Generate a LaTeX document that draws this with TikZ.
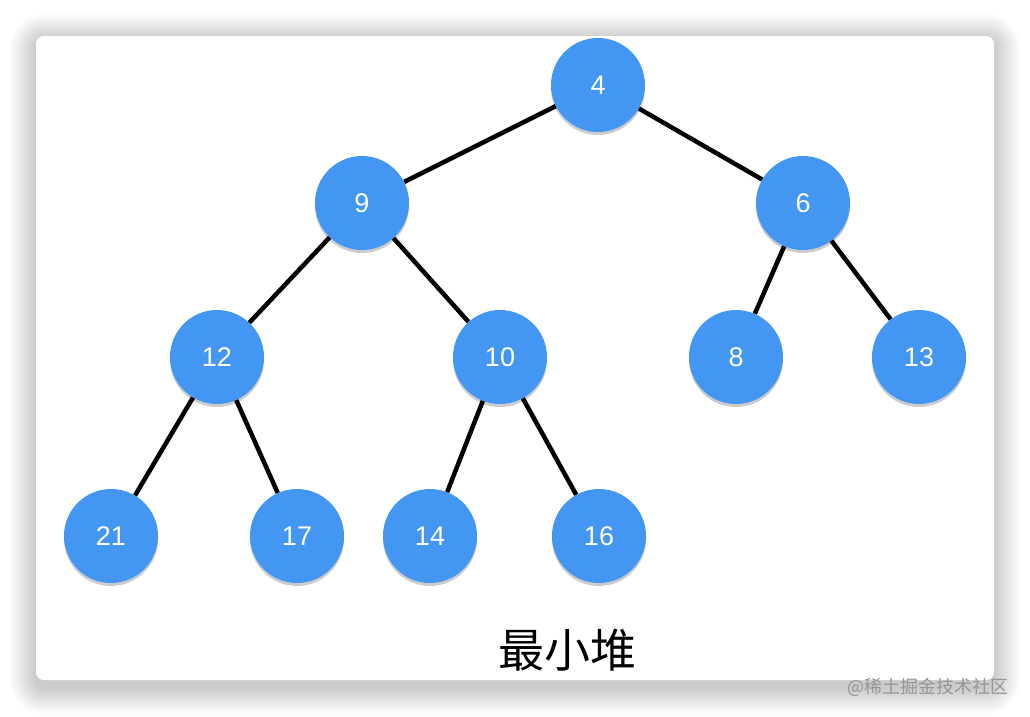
\documentclass[tikz,border=0pt]{standalone}
\usepackage{fontspec}
\setmainfont{Liberation Sans}
\newfontfamily\cjk{Noto Sans CJK SC}
\usetikzlibrary{shadows}

\definecolor{heapblue}{RGB}{68,150,243}
\definecolor{markgray}{RGB}{150,150,150}

\begin{document}
\begin{tikzpicture}[
    x=1pt,
    y=-1pt,
    line join=round,
    card/.style={
        fill=white,
        rounded corners=8pt
    },
    edge/.style={
        line width=4.5pt,
        line cap=butt,
        black
    },
    heapnode/.style={
        circle,
        fill=heapblue,
        minimum size=94pt,
        inner sep=0pt,
        text=white,
        font=\fontsize{27}{27}\selectfont,
        drop shadow={shadow xshift=0pt, shadow yshift=-3pt, fill=black, opacity=0.2}
    }
]

\useasboundingbox (0,0) rectangle (1030,716);

% =================================================
% Карточка с тенью
% =================================================

\foreach \i in {1,...,26}
    \fill[black, opacity=0.007, rounded corners={8pt+\i pt}]
        (36-\i,40-\i) rectangle (994+\i,688+\i);

\fill[card] (36,36) rectangle (994,680);

% =================================================
% Узлы кучи
% =================================================

% Корень
\node[heapnode] (n4)  at (598,85)  {4};

% Второй уровень
\node[heapnode] (n9)  at (362,203) {9};
\node[heapnode] (n6)  at (803,203) {6};

% Третий уровень
\node[heapnode] (n12) at (217,357) {12};
\node[heapnode] (n10) at (500,357) {10};
\node[heapnode] (n8)  at (736,357) {8};
\node[heapnode] (n13) at (919,357) {13};

% Четвёртый уровень
\node[heapnode] (n21) at (111,536) {21};
\node[heapnode] (n17) at (297,536) {17};
\node[heapnode] (n14) at (430,536) {14};
\node[heapnode] (n16) at (599,536) {16};

% =================================================
% Рёбра
% =================================================

\draw[edge] (n4)--(n9);
\draw[edge] (n4)--(n6);

\draw[edge] (n9)--(n12);
\draw[edge] (n9)--(n10);
\draw[edge] (n6)--(n8);
\draw[edge] (n6)--(n13);

\draw[edge] (n12)--(n21);
\draw[edge] (n12)--(n17);
\draw[edge] (n10)--(n14);
\draw[edge] (n10)--(n16);

% =================================================
% Подписи
% =================================================

\node[font=\cjk\fontsize{46}{46}\selectfont] (title) at (567,650) {最小堆};

\node[font=\cjk\fontsize{18}{18}\selectfont, text=markgray] (mark)
    at (928,687) {@稀土掘金技术社区};

\end{tikzpicture}
\end{document}
